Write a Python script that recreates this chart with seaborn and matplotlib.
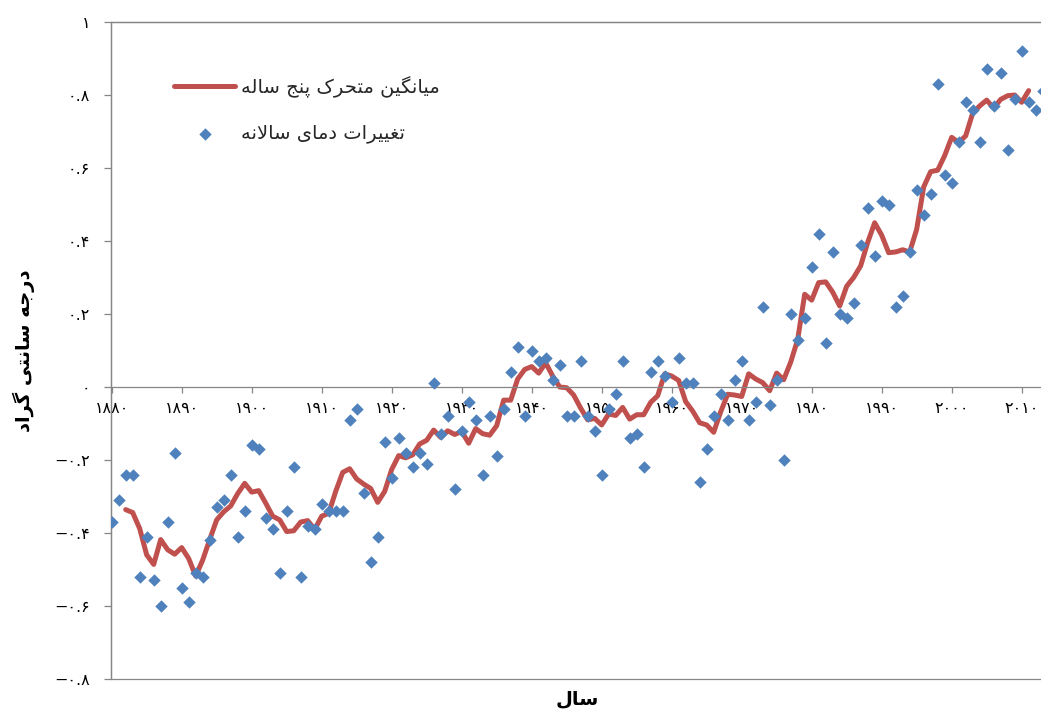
import numpy as np
import pandas as pd
import matplotlib
matplotlib.use("Agg")
import matplotlib.pyplot as plt
import seaborn as sns
from matplotlib.patches import Rectangle
from matplotlib import font_manager
from fontTools.ttLib import TTFont

# ---------------- data ----------------
years = list(range(1880, 2014))
annual_anomaly = [
    -0.37, -0.31, -0.24, -0.24, -0.52, -0.41, -0.53, -0.60, -0.37, -0.18,   # 1880s
    -0.55, -0.59, -0.51, -0.52, -0.42, -0.33, -0.31, -0.24, -0.41, -0.34,   # 1890s
    -0.16, -0.17, -0.36, -0.39, -0.51, -0.34, -0.22, -0.52, -0.38, -0.39,   # 1900s
    -0.32, -0.34, -0.34, -0.34, -0.09, -0.06, -0.29, -0.48, -0.41, -0.15,   # 1910s
    -0.25, -0.14, -0.18, -0.22, -0.18, -0.21, 0.01, -0.13, -0.08, -0.28,    # 1920s
    -0.12, -0.04, -0.09, -0.24, -0.08, -0.19, -0.06, 0.04, 0.11, -0.08,     # 1930s
    0.10, 0.07, 0.08, 0.02, 0.06, -0.08, -0.08, 0.07, -0.08, -0.12,         # 1940s
    -0.24, -0.06, -0.02, 0.07, -0.14, -0.13, -0.22, 0.04, 0.07, 0.03,       # 1950s
    -0.04, 0.08, 0.01, 0.01, -0.26, -0.17, -0.08, -0.02, -0.09, 0.02,       # 1960s
    0.07, -0.09, -0.04, 0.22, -0.05, 0.02, -0.20, 0.20, 0.13, 0.19,         # 1970s
    0.33, 0.42, 0.12, 0.37, 0.20, 0.19, 0.23, 0.39, 0.49, 0.36,             # 1980s
    0.51, 0.50, 0.22, 0.25, 0.37, 0.54, 0.47, 0.53, 0.83, 0.58,             # 1990s
    0.56, 0.67, 0.78, 0.76, 0.67, 0.87, 0.77, 0.86, 0.65, 0.79,             # 2000s
    0.92, 0.78, 0.76, 0.81,                                                 # 2010s
]
window_years = 5

xtick_years = [1880, 1890, 1900, 1910, 1920, 1930, 1940, 1950, 1960, 1970,
               1980, 1990, 2000, 2010]
ytick_values = [-0.8, -0.6, -0.4, -0.2, 0.0, 0.2, 0.4, 0.6, 0.8, 1.0]
ytick_labels = ["−۰.۸", "−۰.۶", "−۰.۴", "−۰.۲", "۰", "۰.۲", "۰.۴", "۰.۶", "۰.۸", "۱"]

label_avg = "میانگین متحرک پنج ساله"
label_annual = "تغییرات دمای سالانه"
label_y = "درجه سانتی گراد"
label_x = "سال"

# ---------------- minimal Persian shaping (for matplotlib, which has no shaper) ----------------
fpath = font_manager.findfont(font_manager.FontProperties(family="DejaVu Sans"))
cmap = TTFont(fpath).getBestCmap()

def _ok(cps):
    return all(cp in cmap for cp in cps if cp is not None)

FORMS = {
    "ا": (0xFE8D, 0xFE8E, None, None),
    "د": (0xFEA9, 0xFEAA, None, None),
    "ر": (0xFEAD, 0xFEAE, None, None),
    "ت": (0xFE95, 0xFE96, 0xFE97, 0xFE98),
    "ج": (0xFE9D, 0xFE9E, 0xFE9F, 0xFEA0),
    "ح": (0xFEA1, 0xFEA2, 0xFEA3, 0xFEA4),
    "س": (0xFEB1, 0xFEB2, 0xFEB3, 0xFEB4),
    "غ": (0xFECD, 0xFECE, 0xFECF, 0xFED0),
    "ل": (0xFEDD, 0xFEDE, 0xFEDF, 0xFEE0),
    "م": (0xFEE1, 0xFEE2, 0xFEE3, 0xFEE4),
    "ن": (0xFEE5, 0xFEE6, 0xFEE7, 0xFEE8),
    "ه": (0xFEE9, 0xFEEA, 0xFEEB, 0xFEEC),
    "پ": (0xFB56, 0xFB57, 0xFB58, 0xFB59),
    "گ": (0xFB92, 0xFB93, 0xFB94, 0xFB95),
    "ک": (0xFB8E, 0xFB8F, 0xFB90, 0xFB91),
    "ی": (0xFBFC, 0xFBFD, 0xFBFE, 0xFBFF),
}
if not _ok(FORMS["ک"]):
    FORMS["ک"] = (0xFED9, 0xFEDA, 0xFEDB, 0xFEDC)
if not _ok(FORMS["ی"]):
    FORMS["ی"] = (0xFEEF, 0xFEF0, 0xFEF3, 0xFEF4)
RIGHT_ONLY = {"ا", "د", "ر"}
LAM_ALEF = (0xFEFB, 0xFEFC)

def shape(s):
    def jt(c):
        if c in RIGHT_ONLY:
            return "R"
        if c in FORMS:
            return "D"
        return "U"
    out, prev_joins, i, n = [], False, 0, len(s)
    while i < n:
        c = s[i]
        if c == "ل" and i + 1 < n and s[i + 1] == "ا":
            out.append(chr(LAM_ALEF[1] if prev_joins else LAM_ALEF[0]))
            prev_joins = False
            i += 2
            continue
        t = jt(c)
        if t == "U":
            out.append(c)
            prev_joins = False
            i += 1
            continue
        nxt = s[i + 1] if i + 1 < n else None
        next_joins = t == "D" and nxt is not None and jt(nxt) in ("D", "R")
        iso, fin, ini, med = FORMS[c]
        if prev_joins and next_joins:
            g = med
        elif prev_joins:
            g = fin
        elif next_joins:
            g = ini
        else:
            g = iso
        out.append(chr(g))
        prev_joins = next_joins
        i += 1
    return "".join(reversed(out))

def fa_digits(v):
    return str(v).translate(str.maketrans("0123456789", "۰۱۲۳۴۵۶۷۸۹"))

# ---------------- data frame ----------------
df = pd.DataFrame({"year": years, "anomaly": annual_anomaly})
df["avg5"] = df["anomaly"].rolling(window_years, center=True).mean()

# ---------------- figure ----------------
sns.set_theme(style="white")
plt.rcParams["font.family"] = ["DejaVu Sans"]
W, H = 1041, 715
fig = plt.figure(figsize=(W / 100, H / 100), dpi=100)
left_px, right_px, top_px, bottom_px = 111, 1044, 22, 679
ax = fig.add_axes([left_px / W, 1 - bottom_px / H,
                   (right_px - left_px) / W, (bottom_px - top_px) / H])

red = "#C0504D"
blue = "#4F81BD"
grey = "#868686"

sns.lineplot(data=df, x="year", y="avg5", ax=ax, color=red, linewidth=3.6,
             solid_joinstyle="round", solid_capstyle="round",
             label=shape(label_avg), zorder=2)
sns.scatterplot(data=df, x="year", y="anomaly", ax=ax, marker="D", s=40,
                color=blue, linewidth=0, label=shape(label_annual), zorder=3)

ax.set_xlim(1879.9, 2013.19)
ax.set_ylim(-0.8, 1.0)

# axes styling
for sp in ax.spines.values():
    sp.set_color(grey)
    sp.set_linewidth(0.9)
ax.spines["right"].set_visible(False)
ax.spines["bottom"].set_position(("data", 0))
ax.add_patch(Rectangle((0, 0), 1, 1, transform=ax.transAxes, fill=False,
                       edgecolor=grey, linewidth=0.9, clip_on=False, zorder=0))

ax.set_xticks(xtick_years)
ax.set_xticklabels([fa_digits(y) for y in xtick_years])
ax.set_yticks(ytick_values)
ax.set_yticklabels(ytick_labels)
ax.tick_params(axis="x", direction="out", length=4, width=0.9, color=grey,
               pad=6, labelsize=11.5, labelcolor="black", bottom=True)
ax.tick_params(axis="y", direction="out", length=5, width=0.9, color=grey,
               pad=10, labelsize=11.5, labelcolor="black", left=True)
ax.grid(False)

ax.set_xlabel(shape(label_x), fontsize=14, fontweight="bold", color="black")
ax.set_ylabel(shape(label_y), fontsize=14, fontweight="bold", color="black")
ax.xaxis.set_label_coords(0.5, -0.016)
ax.yaxis.set_label_coords(-0.081, 0.5)

ax.legend(loc="upper left", bbox_to_anchor=(0.068, 0.918), frameon=False,
          handlelength=3.1, labelspacing=1.35, fontsize=14, borderpad=0,
          borderaxespad=0, handletextpad=0.3)

fig.savefig("out.png", dpi=100)
